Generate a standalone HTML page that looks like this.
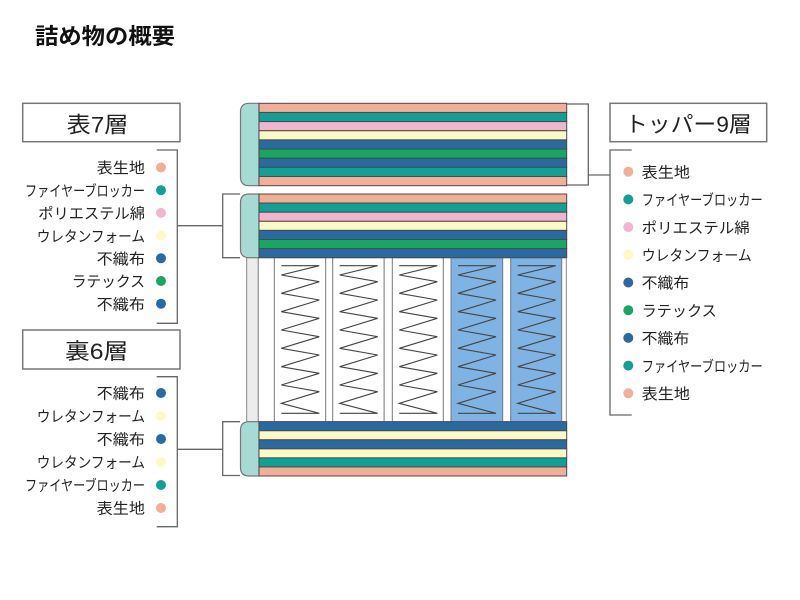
<!DOCTYPE html>
<html><head><meta charset="utf-8"><style>
html,body{margin:0;padding:0;background:#fff;}
svg{display:block;}
text{font-family:"Liberation Sans","Noto Sans CJK JP",sans-serif;fill:#222;}
</style></head><body>
<svg width="800" height="600" viewBox="0 0 800 600" xmlns="http://www.w3.org/2000/svg">
<defs>
<path id="spr" d="M7,265.7 H45 L7,275 L45,281.7 L7,293.3 L45,300 L7,311.7 L45,318.3 L7,330 L45,336.7 L7,348.3 L45,355 L7,366.7 L45,373.3 L7,385 L45,391.7 L7,403.3 L45,413.3 H7" fill="none" stroke="#444" stroke-width="1.1" stroke-linejoin="miter"/>
</defs>

<!-- title -->
<text x="35" y="44" font-size="22" font-weight="bold" textLength="140" lengthAdjust="spacingAndGlyphs" style="fill:#111">詰め物の概要</text>

<!-- spring area -->
<rect x="246.7" y="257.7" width="11.6" height="164" fill="#ececec" stroke="#888" stroke-width="1"/>
<rect x="258.3" y="257.7" width="308" height="164" fill="#fff" stroke="#888" stroke-width="1"/>
<g stroke="#777" stroke-width="1">
<rect x="274.3" y="257.7" width="51.4" height="164" fill="#fff"/>
<rect x="332.7" y="257.7" width="51.4" height="164" fill="#fff"/>
<rect x="392.3" y="257.7" width="51" height="164" fill="#fff"/>
<rect x="451" y="257.7" width="51.7" height="164" fill="#7fb3e4"/>
<rect x="510.7" y="257.7" width="51" height="164" fill="#7fb3e4"/>
</g>
<use href="#spr" x="274.3"/>
<use href="#spr" x="332.7"/>
<use href="#spr" x="392.3"/>
<use href="#spr" x="451"/>
<use href="#spr" x="510.7"/>

<!-- top block (9) -->
<path d="M259,103.3 H249 Q240.5,103.3 240.5,112 V177 Q240.5,185.7 249,185.7 H259 Z" fill="#a6dad5" stroke="#777" stroke-width="1.2"/>
<g stroke="#4a4a4a" stroke-width="1">
<rect x="259" y="103.3" width="307.7" height="9.15" fill="#f5ae96"/>
<rect x="259" y="112.45" width="307.7" height="9.15" fill="#0ea196"/>
<rect x="259" y="121.6" width="307.7" height="9.15" fill="#f3b4d0"/>
<rect x="259" y="130.75" width="307.7" height="9.15" fill="#fdf9c4"/>
<rect x="259" y="139.9" width="307.7" height="9.15" fill="#2a6aa2"/>
<rect x="259" y="149.05" width="307.7" height="9.15" fill="#17a85f"/>
<rect x="259" y="158.2" width="307.7" height="9.15" fill="#2a6aa2"/>
<rect x="259" y="167.35" width="307.7" height="9.15" fill="#0ea196"/>
<rect x="259" y="176.5" width="307.7" height="9.2" fill="#f5ae96"/>
</g>

<!-- middle block (7) -->
<path d="M259,194 H249 Q240.5,194 240.5,202.5 V249.2 Q240.5,257.7 249,257.7 H259 Z" fill="#a6dad5" stroke="#777" stroke-width="1.2"/>
<g stroke="#4a4a4a" stroke-width="1">
<rect x="259" y="194" width="307.7" height="9.1" fill="#f5ae96"/>
<rect x="259" y="203.1" width="307.7" height="9.1" fill="#0ea196"/>
<rect x="259" y="212.2" width="307.7" height="9.1" fill="#f3b4d0"/>
<rect x="259" y="221.3" width="307.7" height="9.1" fill="#fdf9c4"/>
<rect x="259" y="230.4" width="307.7" height="9.1" fill="#2a6aa2"/>
<rect x="259" y="239.5" width="307.7" height="9.1" fill="#17a85f"/>
<rect x="259" y="248.6" width="307.7" height="9.1" fill="#2a6aa2"/>
</g>

<!-- bottom block (6) -->
<path d="M259,421.7 H249 Q240.5,421.7 240.5,430.2 V467.5 Q240.5,476 249,476 H259 Z" fill="#a6dad5" stroke="#777" stroke-width="1.2"/>
<g stroke="#4a4a4a" stroke-width="1">
<rect x="259" y="421.7" width="307.7" height="9.05" fill="#2a6aa2"/>
<rect x="259" y="430.75" width="307.7" height="9.05" fill="#fdf9c4"/>
<rect x="259" y="439.8" width="307.7" height="9.05" fill="#2a6aa2"/>
<rect x="259" y="448.85" width="307.7" height="9.05" fill="#fdf9c4"/>
<rect x="259" y="457.9" width="307.7" height="9.05" fill="#0ea196"/>
<rect x="259" y="466.95" width="307.7" height="9.05" fill="#f5ae96"/>
</g>

<!-- connectors -->
<g fill="none" stroke="#666" stroke-width="1.3">
<path d="M156.7,150 H177.3 V323.3 H156.7"/>
<path d="M177.3,225.7 H222.7"/>
<path d="M240,194 H222.7 V257.7 H240"/>
<path d="M156.7,376.7 H177.3 V526.7 H156.7"/>
<path d="M177.3,449.3 H222.7"/>
<path d="M240,421.7 H222.7 V475.5 H240"/>
<path d="M567,104 H588.3 V185 H567"/>
<path d="M588.3,175 H610"/>
<path d="M631.7,150 H610 V415 H631.7"/>
</g>

<!-- boxes -->
<g fill="#fff" stroke="#777" stroke-width="1.5">
<rect x="22.7" y="103.3" width="157.3" height="38.4"/>
<rect x="22.7" y="330" width="157.3" height="39"/>
<rect x="610" y="103.3" width="156.7" height="38.4"/>
</g>
<text x="66.7" y="132.5" font-size="22" textLength="61.7" lengthAdjust="spacingAndGlyphs">表7層</text>
<text x="65" y="359" font-size="22" textLength="63.3" lengthAdjust="spacingAndGlyphs">裏6層</text>
<text x="625" y="132" font-size="22" textLength="126.7" lengthAdjust="spacingAndGlyphs">トッパー9層</text>

<!-- left top labels -->
<g font-size="15" text-anchor="end">
<text x="145" y="173.2" textLength="48.3" lengthAdjust="spacingAndGlyphs">表生地</text>
<text x="145" y="195.9" textLength="120" lengthAdjust="spacingAndGlyphs">ファイヤーブロッカー</text>
<text x="145" y="218.6" textLength="106.7" lengthAdjust="spacingAndGlyphs">ポリエステル綿</text>
<text x="145" y="241.3" textLength="108.3" lengthAdjust="spacingAndGlyphs">ウレタンフォーム</text>
<text x="145" y="264" textLength="48.3" lengthAdjust="spacingAndGlyphs">不織布</text>
<text x="145" y="286.7" textLength="73.3" lengthAdjust="spacingAndGlyphs">ラテックス</text>
<text x="145" y="309.4" textLength="48.3" lengthAdjust="spacingAndGlyphs">不織布</text>
</g>
<g>
<circle cx="161" cy="167.5" r="5" fill="#f5ae96"/>
<circle cx="161" cy="190.2" r="5" fill="#0ea196"/>
<circle cx="161" cy="212.9" r="5" fill="#f3b4d0"/>
<circle cx="161" cy="235.6" r="5" fill="#fdf9c4"/>
<circle cx="161" cy="258.3" r="5" fill="#2a6aa2"/>
<circle cx="161" cy="281" r="5" fill="#17a85f"/>
<circle cx="161" cy="303.7" r="5" fill="#2a6aa2"/>
</g>

<!-- left bottom labels -->
<g font-size="15" text-anchor="end">
<text x="145" y="398.7" textLength="48.3" lengthAdjust="spacingAndGlyphs">不織布</text>
<text x="145" y="421.7" textLength="108.3" lengthAdjust="spacingAndGlyphs">ウレタンフォーム</text>
<text x="145" y="444.7" textLength="48.3" lengthAdjust="spacingAndGlyphs">不織布</text>
<text x="145" y="467.7" textLength="108.3" lengthAdjust="spacingAndGlyphs">ウレタンフォーム</text>
<text x="145" y="490.7" textLength="120" lengthAdjust="spacingAndGlyphs">ファイヤーブロッカー</text>
<text x="145" y="513.7" textLength="48.3" lengthAdjust="spacingAndGlyphs">表生地</text>
</g>
<g>
<circle cx="161" cy="393" r="5" fill="#2a6aa2"/>
<circle cx="161" cy="416" r="5" fill="#fdf9c4"/>
<circle cx="161" cy="439" r="5" fill="#2a6aa2"/>
<circle cx="161" cy="462" r="5" fill="#fdf9c4"/>
<circle cx="161" cy="485" r="5" fill="#0ea196"/>
<circle cx="161" cy="508" r="5" fill="#f5ae96"/>
</g>

<!-- right labels -->
<g font-size="15">
<text x="641.7" y="177.4" textLength="48.3" lengthAdjust="spacingAndGlyphs">表生地</text>
<text x="641.7" y="205.1" textLength="121" lengthAdjust="spacingAndGlyphs">ファイヤーブロッカー</text>
<text x="641.7" y="232.8" textLength="108" lengthAdjust="spacingAndGlyphs">ポリエステル綿</text>
<text x="641.7" y="260.5" textLength="110" lengthAdjust="spacingAndGlyphs">ウレタンフォーム</text>
<text x="641.7" y="288.2" textLength="47.6" lengthAdjust="spacingAndGlyphs">不織布</text>
<text x="641.7" y="315.9" textLength="75" lengthAdjust="spacingAndGlyphs">ラテックス</text>
<text x="641.7" y="343.6" textLength="47.6" lengthAdjust="spacingAndGlyphs">不織布</text>
<text x="641.7" y="371.3" textLength="121" lengthAdjust="spacingAndGlyphs">ファイヤーブロッカー</text>
<text x="641.7" y="399" textLength="48.3" lengthAdjust="spacingAndGlyphs">表生地</text>
</g>
<g>
<circle cx="628.3" cy="171.7" r="5" fill="#f5ae96"/>
<circle cx="628.3" cy="199.4" r="5" fill="#0ea196"/>
<circle cx="628.3" cy="227.1" r="5" fill="#f3b4d0"/>
<circle cx="628.3" cy="254.8" r="5" fill="#fdf9c4"/>
<circle cx="628.3" cy="282.5" r="5" fill="#2a6aa2"/>
<circle cx="628.3" cy="310.2" r="5" fill="#17a85f"/>
<circle cx="628.3" cy="337.9" r="5" fill="#2a6aa2"/>
<circle cx="628.3" cy="365.6" r="5" fill="#0ea196"/>
<circle cx="628.3" cy="393.3" r="5" fill="#f5ae96"/>
</g>
</svg>
</body></html>
